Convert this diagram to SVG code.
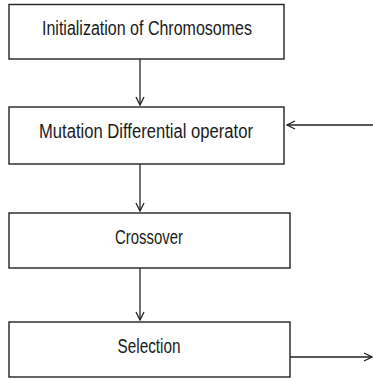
<svg xmlns="http://www.w3.org/2000/svg" width="373" height="379" viewBox="0 0 373 379">
<style>
.box{fill:#fff;stroke:#222;stroke-width:1.4}
.lbl{font-family:"Liberation Sans",Arial,sans-serif;font-size:20px;fill:#1a1a1a;text-anchor:middle}
.con{stroke:#222;stroke-width:1.3;fill:none}
.head{stroke:#222;stroke-width:1.3;fill:none}
</style>
<defs>
<marker id="arr" viewBox="0 0 10 10" refX="9" refY="5" markerWidth="10" markerHeight="10" markerUnits="userSpaceOnUse" orient="auto">
<path d="M1,1 L9,5 L1,9" class="head"/>
</marker>
</defs>
<rect width="373" height="379" fill="#fff"/>
<g id="node-init">
<rect class="box" x="9" y="4.5" width="275" height="54.5"/>
<text class="lbl" x="147" y="35" textLength="210" lengthAdjust="spacingAndGlyphs">Initialization of Chromosomes</text>
</g>
<g id="node-mutation">
<rect class="box" x="9" y="107" width="275" height="57"/>
<text class="lbl" x="146" y="138" textLength="214" lengthAdjust="spacingAndGlyphs">Mutation Differential operator</text>
</g>
<g id="node-crossover">
<rect class="box" x="9" y="213" width="281" height="55"/>
<text class="lbl" x="149" y="244" textLength="68" lengthAdjust="spacingAndGlyphs">Crossover</text>
</g>
<g id="node-selection">
<rect class="box" x="9" y="322" width="281" height="55"/>
<text class="lbl" x="149" y="353" textLength="63" lengthAdjust="spacingAndGlyphs">Selection</text>
</g>
<g id="connectors">
<line class="con" x1="140" y1="59" x2="140" y2="105" marker-end="url(#arr)"/>
<line class="con" x1="373" y1="125" x2="287" y2="125" marker-end="url(#arr)"/>
<line class="con" x1="140" y1="164" x2="140" y2="211" marker-end="url(#arr)"/>
<line class="con" x1="140" y1="268" x2="140" y2="320" marker-end="url(#arr)"/>
<line class="con" x1="290" y1="357" x2="372" y2="357" marker-end="url(#arr)"/>
</g>
</svg>
